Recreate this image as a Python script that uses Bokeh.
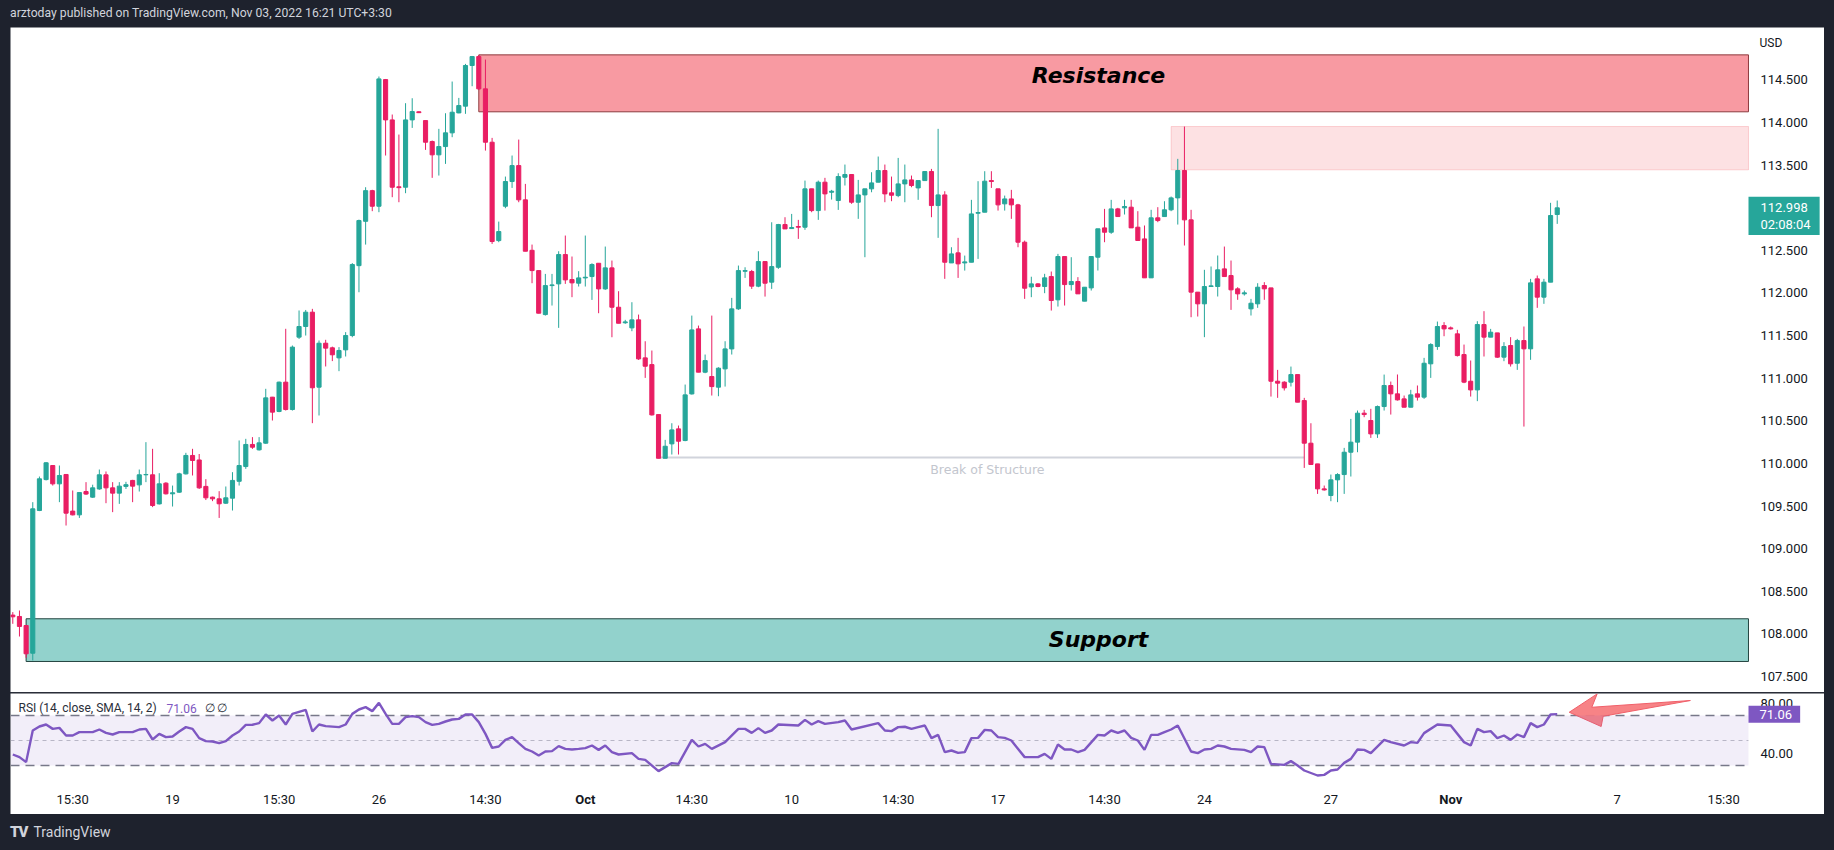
from bokeh.plotting import figure
from bokeh.models import (ColumnDataSource, Range1d, FixedTicker, PrintfTickFormatter,
                          Label, BoxAnnotation, Div)
from bokeh.layouts import column
from bokeh.embed import file_html
from bokeh.resources import INLINE

# ---------------- data ----------------
opens = [
    108.22, 108.204, 108.098, 107.773, 109.447, 109.81, 109.975, 109.76, 109.87, 109.44,
    109.396, 109.67, 109.604, 109.70, 109.866, 109.713, 109.651, 109.73, 109.80, 109.748,
    109.866, 109.866, 109.525, 109.768, 109.643, 109.662, 109.877, 110.093, 110.04, 109.73,
    109.604, 109.584, 109.533, 109.592, 109.79, 109.963, 110.222, 110.159, 110.237, 110.777,
    110.609, 110.953, 110.632, 111.481, 111.606, 111.774, 110.894, 111.41, 111.356, 111.238,
    111.332, 111.50, 112.32, 112.84, 113.20, 113.017, 114.503, 114.03, 113.245, 113.24,
    114.03, 114.125, 114.022, 113.776, 113.62, 113.717, 113.878, 114.112, 114.191, 114.668,
    114.773, 114.394, 113.768, 112.614, 113.017, 113.307, 113.494, 113.092, 112.5, 112.262,
    111.746, 112.086, 112.106, 112.45, 112.157, 112.114, 112.176, 112.192, 112.348, 112.047,
    112.294, 111.832, 111.65, 111.59, 111.684, 111.238, 111.159, 110.573, 110.06, 110.229,
    110.405, 110.268, 110.815, 111.578, 111.07, 111.019, 110.894, 111.109, 111.343, 111.813,
    112.254, 112.251, 112.079, 112.368, 112.126, 112.301, 112.802, 112.755, 112.779, 112.771,
    113.221, 112.966, 113.299, 113.181, 113.084, 113.357, 113.389, 113.064, 113.150, 113.221,
    113.299, 113.436, 113.174, 113.142, 113.279, 113.326, 113.232, 113.318, 113.424, 113.025,
    113.150, 112.352, 112.470, 112.352, 112.360, 112.935, 112.947, 113.318, 113.221, 113.045,
    113.103, 113.033, 112.595, 112.07, 112.106, 112.075, 112.192, 111.919, 112.427, 112.098,
    112.134, 111.903, 112.059, 112.419, 112.763, 112.712, 112.986, 112.998, 113.006, 112.771,
    112.634, 112.177, 112.881, 112.896, 112.975, 113.115, 113.436, 112.857, 112.009, 111.872,
    112.075, 112.075, 112.282, 112.204, 112.048, 111.989, 111.813, 111.872, 112.087, 112.059,
    110.964, 110.953, 110.953, 111.042, 110.737, 110.237, 109.994, 109.701, 109.623, 109.807,
    109.869, 110.131, 110.249, 110.589, 110.503, 110.346, 110.667, 110.914, 110.816, 110.757,
    110.659, 110.816, 110.777, 111.168, 111.371, 111.617, 111.590, 111.520, 111.277, 110.964,
    110.862, 111.629, 111.481, 111.531, 111.246, 111.383, 111.175, 111.441, 111.344, 112.165,
    111.950, 112.126, 112.920,
]
highs = [
    108.255, 108.274, 108.10, 109.545, 109.846, 110.015, 109.98, 109.975, 109.87, 109.682,
    109.66, 109.78, 109.75, 109.928, 109.905, 109.78, 109.78, 109.784, 109.807, 109.928,
    110.249, 110.171, 109.885, 109.78, 109.74, 109.89, 110.124, 110.171, 110.11, 109.815,
    109.61, 109.674, 109.729, 109.897, 110.269, 110.288, 110.308, 110.308, 110.875, 110.78,
    110.96, 111.579, 111.383, 111.794, 111.80, 111.813, 111.442, 111.45, 111.37, 111.364,
    111.54, 112.35, 112.86, 113.24, 113.21, 114.539, 114.51, 114.093, 113.858, 114.226,
    114.284, 114.13, 114.022, 113.788, 113.925, 114.108, 114.48, 114.288, 114.687, 114.78,
    114.79, 114.738, 113.819, 112.837, 113.365, 113.612, 113.799, 113.279, 112.567, 112.262,
    112.223, 112.223, 112.489, 112.673, 112.427, 112.255, 112.673, 112.348, 112.348, 112.544,
    112.380, 112.020, 111.684, 111.891, 111.746, 111.433, 111.324, 110.573, 110.276, 110.471,
    110.444, 110.925, 111.734, 111.617, 111.277, 111.734, 111.128, 111.433, 111.942, 112.321,
    112.301, 112.270, 112.489, 112.368, 112.829, 112.810, 112.888, 112.927, 112.857, 113.318,
    113.221, 113.318, 113.350, 113.209, 113.404, 113.506, 113.389, 113.326, 113.221, 113.416,
    113.600, 113.506, 113.365, 113.584, 113.506, 113.377, 113.318, 113.424, 113.455, 113.925,
    113.193, 112.536, 112.646, 112.438, 113.092, 113.311, 113.428, 113.428, 113.221, 113.142,
    113.209, 113.045, 112.614, 112.19, 112.114, 112.224, 112.251, 112.458, 112.427, 112.419,
    112.185, 112.067, 112.427, 112.752, 112.986, 113.092, 112.998, 113.092, 113.092, 112.959,
    112.791, 112.975, 113.006, 113.076, 113.131, 113.573, 113.952, 112.975, 112.009, 112.271,
    112.310, 112.439, 112.544, 112.380, 112.067, 112.028, 111.930, 112.114, 112.126, 112.059,
    111.097, 110.964, 111.136, 111.042, 110.769, 110.471, 109.994, 109.740, 109.869, 109.885,
    110.182, 110.522, 110.620, 110.628, 110.640, 110.679, 111.042, 110.960, 111.043, 110.796,
    110.863, 110.914, 111.238, 111.410, 111.664, 111.657, 111.606, 111.567, 111.394, 111.207,
    111.668, 111.786, 111.578, 111.531, 111.422, 111.481, 111.461, 111.606, 112.165, 112.204,
    112.165, 113.057, 113.084,
]
lows = [
    108.118, 107.969, 107.72, 107.688, 109.44, 109.80, 109.74, 109.545, 109.271, 109.39,
    109.36, 109.63, 109.596, 109.69, 109.533, 109.428, 109.525, 109.70, 109.545, 109.67,
    109.78, 109.487, 109.518, 109.635, 109.494, 109.655, 109.87, 109.858, 109.70, 109.57,
    109.557, 109.36, 109.525, 109.447, 109.74, 109.936, 110.17, 110.15, 110.23, 110.503,
    110.60, 110.62, 110.62, 111.46, 111.50, 110.472, 110.562, 111.137, 111.20, 111.082,
    111.254, 111.48, 112.008, 112.567, 112.959, 112.947, 113.612, 113.123, 113.064, 113.170,
    113.936, 114.11, 113.678, 113.350, 113.377, 113.514, 113.827, 114.108, 114.101, 114.425,
    114.38, 113.670, 112.575, 112.595, 112.994, 113.232, 113.064, 112.489, 112.114, 111.76,
    111.734, 111.852, 111.590, 112.106, 111.95, 112.075, 112.075, 111.918, 111.762, 112.036,
    111.480, 111.644, 111.637, 111.551, 111.214, 111.003, 110.561, 110.060, 110.06, 110.104,
    110.104, 110.260, 110.808, 111.070, 111.058, 110.796, 110.788, 110.901, 111.277, 111.801,
    112.176, 112.047, 112.067, 111.957, 112.047, 112.282, 112.751, 112.751, 112.634, 112.740,
    112.947, 112.857, 112.966, 113.095, 112.974, 113.260, 113.045, 112.869, 112.419, 113.181,
    113.299, 113.064, 113.076, 113.123, 113.064, 113.240, 113.092, 113.318, 112.888, 112.646,
    112.165, 112.352, 112.176, 112.262, 112.360, 112.399, 112.947, 113.232, 112.966, 112.966,
    112.869, 112.536, 111.930, 111.95, 112.067, 111.997, 111.793, 111.840, 111.852, 112.028,
    111.989, 111.903, 112.028, 112.263, 112.595, 112.693, 112.896, 112.920, 112.763, 112.615,
    112.177, 112.177, 112.830, 112.896, 112.959, 112.802, 112.556, 111.715, 111.723, 111.481,
    112.075, 111.958, 112.192, 111.801, 111.919, 111.969, 111.735, 111.825, 111.919, 110.784,
    110.769, 110.855, 110.902, 110.718, 109.947, 109.987, 109.642, 109.681, 109.556, 109.545,
    109.642, 109.846, 110.131, 110.542, 110.299, 110.299, 110.620, 110.573, 110.737, 110.659,
    110.659, 110.737, 110.757, 111.003, 111.332, 111.492, 111.571, 111.254, 110.941, 110.784,
    110.730, 111.254, 111.481, 111.238, 111.199, 111.136, 111.097, 110.432, 111.215, 111.825,
    111.872, 112.126, 112.810,
]
closes = [
    108.20, 108.087, 107.766, 109.467, 109.819, 110.007, 109.76, 109.858, 109.416, 109.396,
    109.658, 109.64, 109.713, 109.866, 109.713, 109.651, 109.733, 109.75, 109.733, 109.866,
    109.87, 109.506, 109.76, 109.643, 109.655, 109.877, 110.093, 110.034, 109.713, 109.596,
    109.584, 109.526, 109.596, 109.80, 109.975, 110.222, 110.19, 110.241, 110.769, 110.601,
    110.953, 110.632, 111.364, 111.606, 111.774, 110.887, 111.41, 111.352, 111.274, 111.325,
    111.50, 112.333, 112.849, 113.20, 113.017, 114.511, 114.030, 113.240, 113.235, 114.03,
    114.128, 114.115, 113.768, 113.620, 113.717, 113.878, 114.12, 114.198, 114.668, 114.773,
    114.394, 113.768, 112.603, 112.72, 113.307, 113.494, 113.092, 112.489, 112.262, 111.762,
    112.086, 112.094, 112.450, 112.153, 112.118, 112.176, 112.184, 112.333, 112.047, 112.294,
    111.832, 111.644, 111.66, 111.684, 111.226, 111.140, 110.569, 110.060, 110.201, 110.393,
    110.260, 110.804, 111.566, 111.070, 111.206, 110.901, 111.117, 111.343, 111.813, 112.262,
    112.262, 112.079, 112.368, 112.114, 112.309, 112.802, 112.751, 112.767, 112.771, 113.221,
    112.966, 113.299, 113.162, 113.193, 113.365, 113.389, 113.064, 113.150, 113.221, 113.291,
    113.436, 113.162, 113.146, 113.279, 113.326, 113.260, 113.318, 113.424, 113.025, 113.150,
    112.360, 112.458, 112.341, 112.364, 112.927, 112.943, 113.311, 113.307, 113.033, 113.103,
    113.033, 112.595, 112.055, 112.106, 112.075, 112.177, 111.911, 112.427, 112.098, 112.134,
    111.989, 112.067, 112.427, 112.752, 112.712, 112.986, 112.896, 113.014, 112.763, 112.615,
    112.177, 112.881, 112.849, 112.975, 113.115, 113.436, 112.857, 112.009, 111.872, 112.075,
    112.083, 112.271, 112.192, 112.036, 111.989, 112.001, 111.879, 112.067, 112.048, 110.964,
    110.941, 110.886, 111.042, 110.718, 110.237, 109.987, 109.701, 109.689, 109.807, 109.869,
    110.131, 110.249, 110.589, 110.573, 110.346, 110.667, 110.914, 110.816, 110.745, 110.659,
    110.804, 110.777, 111.175, 111.394, 111.606, 111.578, 111.578, 111.265, 110.953, 110.862,
    111.629, 111.481, 111.539, 111.246, 111.371, 111.168, 111.441, 111.344, 112.118, 111.950,
    112.126, 112.908, 112.998,
]

# RSI line vertices (bar index, value)
rsi_bar = [
    0, 1, 2, 3, 4, 5, 6, 7, 8, 9, 10, 12, 13, 14, 15, 16, 18, 19, 20, 21,
    22, 23, 24, 25, 26, 27, 28, 29, 30, 31, 32, 33, 34, 35, 36, 37, 38, 39, 40, 41,
    42, 43, 44, 45, 46, 47, 49, 50, 51, 52, 53, 54, 55, 56, 57, 58, 59, 60, 61, 62,
    63, 64, 65, 66, 67, 68, 69, 70, 71, 72, 73, 74, 75, 76, 77, 78, 79, 80, 81, 82,
    83, 84, 85, 86, 87, 88, 89, 90, 91, 93, 94, 95, 97, 99, 100, 102, 103, 104, 105, 107,
    109, 110, 111, 112, 113, 114, 115, 118, 119, 120, 121, 122, 124, 125, 126, 130, 131, 132, 133, 134,
    135, 136, 137, 138, 139, 140, 141, 142, 143, 144, 145, 146, 147, 148, 149, 150, 152, 154, 155, 156,
    157, 158, 159, 160, 161, 163, 164, 165, 166, 167, 168, 169, 170, 171, 172, 173, 174, 175, 177, 178,
    179, 180, 181, 182, 183, 185, 186, 187, 188, 189, 191, 192, 193, 194, 196, 197, 198, 199, 200, 201,
    202, 203, 204, 206, 207, 209, 210, 211, 212, 214, 216, 218, 219, 220, 221, 222, 223, 224, 225, 226,
    227, 228, 229, 230, 231, 232,
]
rsi_val = [
    38.8, 36.7, 32.7, 58.0, 61.2, 62.8, 59.3, 60.1, 54.0, 54.0, 56.7, 56.7, 58.8, 56.1, 54.8, 56.7, 56.7, 58.8, 59.3, 50.8,
    55.3, 52.7, 53.2, 57.2, 60.7, 59.3, 51.9, 49.5, 49.2, 47.9, 49.5, 54.0, 57.2, 62.5, 62.6, 63.9, 70.8, 66.0, 70.0, 62.8,
    71.3, 72.9, 74.5, 57.2, 62.8, 61.5, 60.7, 62.8, 71.3, 74.8, 76.7, 73.5, 80.1, 71.3, 63.3, 63.3, 68.7, 69.5, 68.7, 64.7,
    62.5, 63.3, 65.2, 66.8, 67.3, 70.8, 70.8, 64.7, 55.3, 44.1, 45.2, 50.5, 52.7, 47.9, 43.3, 41.2, 38.0, 41.2, 41.5, 45.5,
    43.3, 42.8, 43.3, 43.9, 46.0, 42.5, 46.0, 40.7, 38.8, 39.9, 35.3, 34.5, 25.5, 31.9, 31.3, 50.5, 45.2, 47.3, 43.3, 48.7,
    59.3, 59.3, 56.1, 59.9, 56.1, 58.0, 62.8, 62.0, 66.5, 62.8, 65.5, 63.3, 64.7, 66.0, 58.8, 63.9, 58.0, 57.5, 60.7, 61.0,
    59.3, 60.7, 62.0, 51.9, 54.5, 40.7, 42.0, 40.1, 40.7, 51.9, 52.1, 58.5, 58.0, 52.7, 52.1, 50.0, 36.7, 36.7, 39.3, 35.3,
    46.8, 42.8, 42.8, 40.7, 42.5, 54.5, 54.0, 58.0, 56.1, 58.0, 52.1, 50.0, 42.5, 54.5, 54.5, 56.7, 58.8, 62.0, 41.2, 39.9,
    42.8, 43.3, 46.0, 45.2, 43.3, 42.5, 40.7, 45.2, 44.7, 31.3, 30.5, 33.5, 30.0, 26.0, 22.0, 22.5, 26.0, 26.8, 32.1, 35.3,
    42.8, 42.5, 39.9, 50.5, 48.7, 46.0, 48.7, 48.1, 55.9, 62.8, 62.0, 48.7, 46.0, 59.3, 56.7, 57.5, 51.9, 54.0, 50.5, 54.8,
    52.7, 63.9, 60.7, 62.8, 70.8, 71.06,
]

price_ticks = [107.5, 108.0, 108.5, 109.0, 109.5, 110.0, 110.5, 111.0, 111.5, 112.0, 112.5, 113.5, 114.0, 114.5]
rsi_ticks = [40, 80]
rsi_levels = [70, 50, 30]
time_tick_bars = [9, 24, 40, 55, 71, 86, 102, 117, 133, 148, 164, 179, 198, 216, 241, 257]
time_tick_labels = ["15:30", "19", "15:30", "26", "14:30", "Oct", "14:30", "10", "14:30", "17",
                    "14:30", "24", "27", "Nov", "7", "15:30"]
bold_ticks = ("Oct", "Nov")

# drawn zones (price levels and start bars)
resistance_zone = dict(start=70, top=114.793, bottom=114.125)
supply_zone = dict(start=174, top=113.952, bottom=113.444)
support_zone = dict(start=2, top=108.177, bottom=107.676)
bos_bars = [97, 194]
bos_level = 110.07
# arrow drawing in the RSI pane (bar, rsi value)
arrow_bar = [233.8, 238.0, 237.2, 252.0, 238.9, 238.6]
arrow_val = [72.6, 87.3, 76.6, 82.0, 69.4, 61.2]

# visible bar window: plot area ends where the price scale begins
x_start, chart_right, x_end = -0.345, 260.73, 272.15

# ---------------- styling ----------------
GREEN = "#26a69a"
RED = "#e91e63"
DARK = "#1e222d"
TXT = "#131722"
FONT = "Roboto"

n = len(closes)
idx = list(range(n))
cols = [GREEN if c >= o else RED for o, c in zip(opens, closes)]
src = ColumnDataSource(dict(
    x=idx, o=opens, h=highs, l=lows, c=closes,
    top=[max(o, c) for o, c in zip(opens, closes)],
    bot=[min(o, c) for o, c in zip(opens, closes)],
    col=cols,
))

x_range = Range1d(x_start, x_end)


def style_axis(a, size="13px"):
    a.axis_line_color = None
    a.major_tick_line_color = None
    a.minor_tick_line_color = None
    a.major_tick_out = 0
    a.major_tick_in = 0
    a.major_label_text_font = FONT
    a.major_label_text_font_size = size
    a.major_label_text_color = TXT


# ---------------- main price pane ----------------
p = figure(width=1814, height=665, x_range=x_range, y_range=Range1d(107.312, 115.114),
           output_backend="svg", toolbar_location=None, x_axis_location=None,
           y_axis_location="right", min_border_left=0, min_border_right=0,
           min_border_top=0, min_border_bottom=0, margin=(0, 10, 0, 10))
p.background_fill_color = "white"
p.border_fill_color = "white"
p.outline_line_color = None
p.grid.visible = False
ax = p.yaxis[0]
ax.ticker = FixedTicker(ticks=price_ticks)
ax.formatter = PrintfTickFormatter(format="%.3f")
style_axis(ax)
ax.major_label_standoff = -64

p.quad(left=[resistance_zone["start"]], right=[chart_right], top=[resistance_zone["top"]],
       bottom=[resistance_zone["bottom"]], fill_color="#f23645", fill_alpha=0.5,
       line_color="#8e3b3f", line_width=1)
p.quad(left=[supply_zone["start"]], right=[chart_right], top=[supply_zone["top"]],
       bottom=[supply_zone["bottom"]], fill_color="#f23645", fill_alpha=0.15,
       line_color="#f23645", line_alpha=0.2, line_width=1)
p.quad(left=[support_zone["start"]], right=[chart_right], top=[support_zone["top"]],
       bottom=[support_zone["bottom"]], fill_color=GREEN, fill_alpha=0.5,
       line_color="#23433f", line_width=1)
p.line(x=bos_bars, y=[bos_level, bos_level], line_color="#d1d4dc", line_width=2)

p.segment(x0="x", y0="l", x1="x", y1="h", color="col", line_width=1, source=src)
p.vbar(x="x", width=0.62, top="top", bottom="bot", fill_color="col", line_color="col",
       line_width=1, source=src)

p.add_layout(Label(x=163.1, y=114.55, text="Resistance", text_align="center",
                   text_baseline="middle", text_font="DejaVu Sans",
                   text_font_style="bold italic", text_font_size="22px", text_color="black"))
p.add_layout(Label(x=163.1, y=107.93, text="Support", text_align="center",
                   text_baseline="middle", text_font="DejaVu Sans",
                   text_font_style="bold italic", text_font_size="22px", text_color="black"))
p.add_layout(Label(x=146.4, y=bos_level, y_offset=-12, text="Break of Structure",
                   text_align="center", text_baseline="middle", text_font="DejaVu Sans",
                   text_font_size="12.5px", text_color="#c3c6ce"))
p.add_layout(Label(x=1749, x_units="screen", y=114.938, text="USD", text_align="left",
                   text_baseline="middle", text_font=FONT, text_font_size="12px",
                   text_color=TXT))
p.add_layout(Label(x=1738, x_units="screen", y=closes[-1], y_offset=11,
                   text="%.3f\n02:08:04" % closes[-1], text_align="left",
                   text_baseline="top", text_font=FONT, text_font_size="13px",
                   text_line_height=1.15,
                   text_color="white", background_fill_color=GREEN, background_fill_alpha=1.0,
                   padding=dict(left=12, right=9, top=3, bottom=3)))

# ---------------- RSI pane ----------------
r = figure(width=1814, height=121, x_range=x_range, y_range=Range1d(-9.2, 87.6),
           output_backend="svg", toolbar_location=None, y_axis_location="right",
           min_border_left=0, min_border_right=0, min_border_top=0, min_border_bottom=0,
           margin=(0, 10, 0, 10))
r.background_fill_color = "white"
r.border_fill_color = "white"
r.outline_line_color = None
r.grid.visible = False
ry = r.yaxis[0]
ry.ticker = FixedTicker(ticks=rsi_ticks)
ry.formatter = PrintfTickFormatter(format="%.2f")
style_axis(ry)
ry.major_label_standoff = -64
rx = r.xaxis[0]
rx.ticker = FixedTicker(ticks=time_tick_bars)
rx.major_label_overrides = {b: ("" if t in bold_ticks else t)
                            for b, t in zip(time_tick_bars, time_tick_labels)}
style_axis(rx)
rx.major_label_standoff = -23
for b, t in zip(time_tick_bars, time_tick_labels):
    if t in bold_ticks:
        r.add_layout(Label(x=b, y=23, y_units="screen", text=t, text_align="center",
                           text_baseline="top", text_font=FONT, text_font_style="bold",
                           text_font_size="13px", text_color=TXT))

r.add_layout(BoxAnnotation(left=x_start, right=chart_right, bottom=rsi_levels[2],
                           top=rsi_levels[0], fill_color="#7e57c2", fill_alpha=0.1,
                           line_color=None))
for lv in (rsi_levels[0], rsi_levels[2]):
    r.line(x=[x_start, chart_right], y=[lv, lv], line_color="#787b86", line_width=1.6,
           line_dash="9 6")
r.line(x=[x_start, chart_right], y=[rsi_levels[1], rsi_levels[1]], line_color="#9598a1",
       line_alpha=0.6, line_width=1, line_dash="4 4")
r.line(x=rsi_bar, y=rsi_val, line_color="#7e57c2", line_width=2.4)
r.patch(x=arrow_bar, y=arrow_val, fill_color="#f77c80", fill_alpha=0.95,
        line_color="#f0606a", line_width=1)

r.add_layout(Label(x=8, x_units="screen", y=75.8, text="RSI (14, close, SMA, 14, 2)",
                   text_baseline="middle", text_font=FONT, text_font_size="12px",
                   text_color="#2a2e39"))
r.add_layout(Label(x=156, x_units="screen", y=75.8, text="%.2f" % rsi_val[-1],
                   text_baseline="middle", text_font=FONT, text_font_size="12px",
                   text_color="#7e57c2"))
r.add_layout(Label(x=194, x_units="screen", y=75.8, text="\u2205  \u2205",
                   text_baseline="middle", text_font=FONT, text_font_size="12px",
                   text_color="#2a2e39"))
r.add_layout(Label(x=1738, x_units="screen", y=rsi_val[-1], text="%.2f" % rsi_val[-1],
                   text_align="left", text_baseline="middle", text_font=FONT,
                   text_font_size="13px", text_color="white",
                   background_fill_color="#7e57c2", background_fill_alpha=1.0,
                   padding=dict(left=11, right=8, top=4, bottom=4)))

# ---------------- frame pieces ----------------
header = Div(text="<div style=\"color:#d1d4dc;font-family:Roboto,sans-serif;"
                  "font-size:12.2px;line-height:27px;padding-left:10px;white-space:nowrap;\">"
                  "arztoday published on TradingView.com, Nov 03, 2022 16:21 UTC+3:30</div>",
             width=1834, height=27, margin=(0, 0, 0, 0))
sep = Div(text="", width=1814, height=1, margin=(0, 10, 0, 10),
          styles={"background-color": "#2a2e39"})
footer = Div(text="<div style=\"color:#d1d4dc;font-family:Roboto,sans-serif;line-height:36px;"
                  "padding-left:10px;white-space:nowrap;\">"
                  "<span style=\"font-weight:900;font-size:15px;letter-spacing:-1px;\">TV</span>"
                  "<span style=\"font-size:14px;margin-left:6px;\">TradingView</span></div>",
             width=1834, height=36, margin=(0, 0, 0, 0))

root = column(header, p, sep, r, footer, width=1834, height=850, spacing=0,
              styles={"background-color": DARK})

open("out.html", "w").write(file_html(root, INLINE))
